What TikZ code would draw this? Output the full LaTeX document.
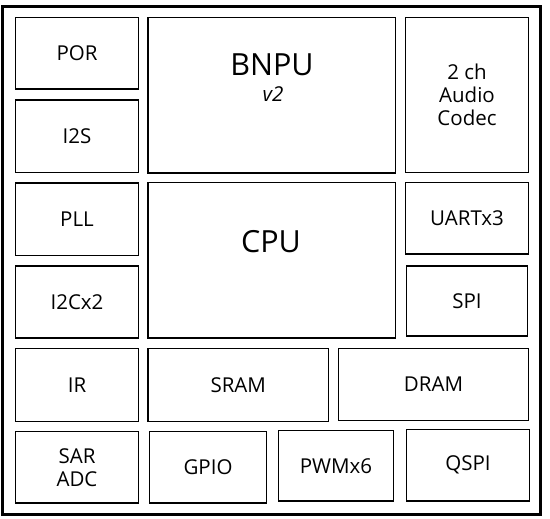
\documentclass[tikz,border=0pt]{standalone}
\usepackage{fontspec}
\setmainfont{Open Sans}
\usetikzlibrary{fit}
\newcommand\lblfont{\fontsize{20.5}{23}\selectfont}
\newcommand\bigfont{\fontsize{30.5}{36}\selectfont}
\tikzset{
  blk/.style={draw, line width=1.2pt, inner sep=0pt},
  lbl/.style={inner sep=0pt, align=center, font=\lblfont},
  frame/.style={draw, line width=3pt, inner sep=0pt},
  big/.style={font=\bigfont, inner sep=0pt},
  sub/.style={font=\lblfont\itshape, inner sep=0pt}
}
\newcommand\blk[6]{\node[blk, fit={(#2,#3) (#4,#5)}] (#1) {};
  \node[lbl] (#1-t) at (#1.center) {#6};}
\begin{document}
\begin{tikzpicture}[x=1pt,y=-1pt]
\useasboundingbox (0,0) rectangle (550,519);
\node[frame, fit={(2.5,6.5) (540.5,514)}] (chip) {};
\blk{por}{15.5}{17.5}{138.5}{89}{POR}
\blk{i2s}{15.5}{100}{138.5}{172.5}{I2S}
\blk{pll}{15.5}{183}{138.5}{255.5}{PLL}
\blk{i2c}{15.5}{266}{138.5}{338}{I2Cx2}
\blk{ir}{15.5}{348.5}{138.5}{421.5}{IR}
\blk{sar}{15.5}{431.5}{138.5}{503}{SAR\\ADC}
\node[blk, fit={(148,17.5) (395.5,173)}] (bnpu) {};
\node[blk, fit={(148,182.5) (395.5,338)}] (cpu) {};
\blk{sram}{148}{348.5}{328.5}{421.5}{SRAM}
\blk{gpio}{149.5}{431.5}{266.5}{503}{GPIO}
\blk{pwm}{278.5}{430.5}{393.5}{501}{PWMx6}
\blk{dram}{338.5}{348.5}{528.5}{420.5}{DRAM}
\blk{codec}{405.5}{17.5}{528.5}{172.5}{2 ch\\Audio\\Codec}
\blk{uart}{405.5}{182.5}{528.5}{254}{UARTx3}
\blk{spi}{406.5}{266}{527.5}{336}{SPI}
\blk{qspi}{406.5}{429.5}{529.5}{501}{QSPI}
\node[big] (bnputxt) at (272,64.5) {BNPU};
\node[sub] (v2txt) at (273,94) {v2};
\node[big] (cputxt) at (271,241.5) {CPU};
\end{tikzpicture}
\end{document}
